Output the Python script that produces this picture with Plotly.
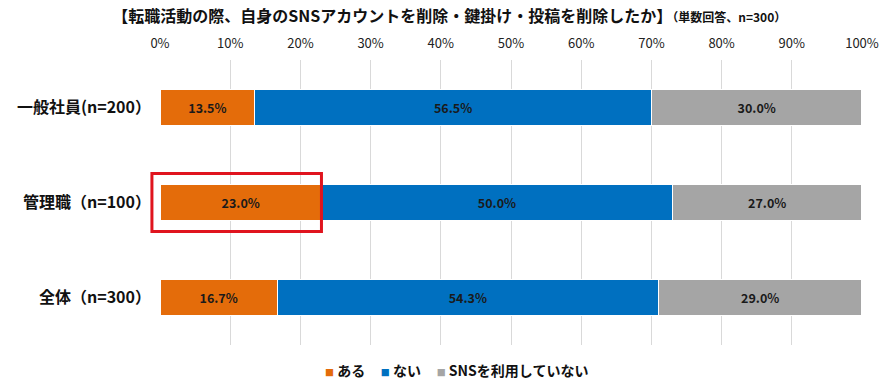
import plotly.graph_objects as go

categories = ["一般社員(n=200）", "管理職（n=100）", "全体（n=300）"]
series_names = ["ある", "ない", "SNSを利用していない"]
aru = [13.5, 23.0, 16.7]
nai = [56.5, 50.0, 54.3]
no_sns = [30.0, 27.0, 29.0]
colors = ["#E46C0A", "#0070C0", "#A5A5A5"]
tick_vals = [0, 10, 20, 30, 40, 50, 60, 70, 80, 90, 100]
tick_text = [f"{v}%" for v in tick_vals]

FONT = "Noto Sans CJK JP"

fig = go.Figure()
for name, vals, col in zip(series_names, [aru, nai, no_sns], colors):
    fig.add_trace(go.Bar(
        y=categories, x=vals, name=name, orientation="h",
        marker=dict(color=col, line=dict(color="#FFFFFF", width=1.2)),
        width=0.38, showlegend=False,
        texttemplate="<b>%{x:.1f}%</b>", textposition="inside",
        insidetextanchor="middle", textangle=0,
        textfont=dict(size=12.5, color="#1a1a1a", family=FONT),
        constraintext="none",
    ))

# highlight box around 管理職 "ある" (x axis range 0-100 maps to paper 0-1)
hi = 1
n = len(categories)
yc = 1 - (hi + 0.5) / n
fig.add_shape(type="rect", xref="paper", yref="paper",
              x0=-0.0115, x1=aru[hi] / 100, y0=yc - 0.102, y1=yc + 0.102,
              line=dict(color="#E0141E", width=3), fillcolor="rgba(0,0,0,0)")

# legend drawn as a text line
legend_text = "     ".join(
    f"<span style='color:{c};font-size:9px'>■</span> <b>{nm}</b>"
    for nm, c in zip(series_names, colors)
)
fig.add_annotation(text=legend_text, xref="paper", yref="paper",
                   x=(456 - 160) / 702, y=-0.088, xanchor="center", yanchor="middle",
                   showarrow=False, font=dict(size=14, family=FONT, color="#111"))

fig.update_layout(
    width=879, height=374,
    barmode="stack",
    plot_bgcolor="white", paper_bgcolor="white",
    margin=dict(l=152, r=25, t=52, b=37),
    font=dict(family=FONT, color="#111"),
    showlegend=False,
    title=dict(
        text="<b>【転職活動の際、自身のSNSアカウントを削除・鍵掛け・投稿を削除したか】</b>"
             "<span style='font-size:12px'><b>（単数回答、n=300）</b></span>",
        x=0.502, xref="container", xanchor="center",
        y=0.977, yanchor="middle",
        font=dict(size=16, family=FONT, color="#111"),
    ),
    xaxis=dict(
        side="top", range=[0, 100], tickvals=tick_vals, ticktext=tick_text,
        showgrid=True, gridcolor="#D9D9D9", gridwidth=1,
        zeroline=False, showline=False, ticks="",
        tickfont=dict(size=13, family=FONT, color="#222"),
        ticklabelstandoff=8, automargin=False,
        fixedrange=True,
    ),
    yaxis=dict(
        autorange="reversed", showgrid=False, ticks="",
        tickfont=dict(size=16, family=FONT, color="#111"),
        tickprefix="<b>", ticksuffix="</b>", ticklabelstandoff=8,
        automargin=False,
    ),
)

fig.write_html("out.html")
